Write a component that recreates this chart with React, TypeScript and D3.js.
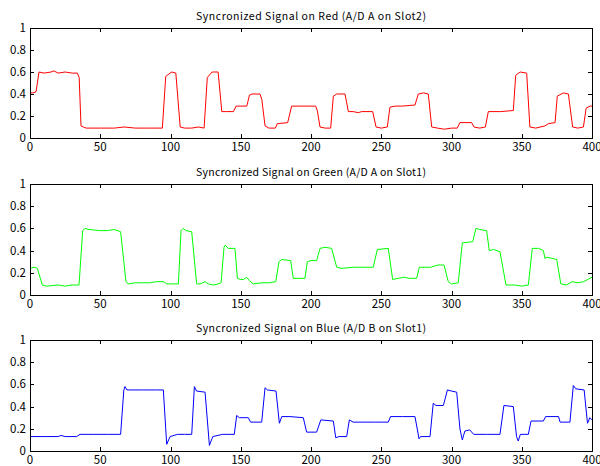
import React, { useEffect, useRef } from 'react';
import * as d3 from 'd3';

// samples: [sample index, level]
const redSignal: [number, number][] = [
  [0, 0.41], [2, 0.41], [4.3, 0.42], [6.4, 0.6], [10, 0.59], [15, 0.6], [17, 0.61], [20, 0.59], [25, 0.6], [30, 0.59],
  [33.7, 0.59], [35, 0.55], [36.3, 0.11], [38, 0.1], [40, 0.09], [50, 0.09], [60, 0.09], [67, 0.1], [75, 0.09], [85, 0.09],
  [94.2, 0.09], [96.6, 0.56], [99.7, 0.59], [101, 0.6], [103.8, 0.59], [106.9, 0.1], [110, 0.09], [115, 0.09], [120, 0.1],
  [123.9, 0.09], [126.2, 0.55], [129.6, 0.6], [133.9, 0.6], [136.5, 0.24], [140, 0.24], [144.8, 0.24], [146.7, 0.29],
  [154.3, 0.29], [156.2, 0.39], [158, 0.4], [163.7, 0.4], [165, 0.35], [167.3, 0.11], [170, 0.09], [174.6, 0.09], [176, 0.13],
  [183.4, 0.14], [186.2, 0.29], [195, 0.29], [203.3, 0.29], [204.5, 0.25], [206.4, 0.1], [210, 0.09], [214, 0.09],
  [215.9, 0.38], [218.3, 0.4], [224.2, 0.4], [226.6, 0.24], [230, 0.24], [233.7, 0.23], [236, 0.24], [243.9, 0.24],
  [246.3, 0.1], [250, 0.09], [254.3, 0.1], [256.2, 0.28], [259.8, 0.29], [265, 0.29], [274, 0.3], [276.4, 0.4], [280, 0.41],
  [283.5, 0.4], [285.9, 0.1], [290, 0.09], [295, 0.08], [300, 0.09], [304.1, 0.09], [306, 0.14], [314.3, 0.14], [316, 0.1],
  [320, 0.09], [324.1, 0.1], [326.2, 0.24], [335, 0.24], [344, 0.25], [345.7, 0.57], [348.8, 0.6], [353.5, 0.59],
  [355.8, 0.1], [360, 0.09], [366.5, 0.11], [368.9, 0.13], [373.7, 0.14], [375.3, 0.38], [379.6, 0.41], [383.2, 0.4],
  [386.2, 0.1], [390, 0.09], [393.9, 0.1], [395.8, 0.27], [398.7, 0.29], [400, 0.29],
];

const greenSignal: [number, number][] = [
  [0, 0.24], [3, 0.25], [5.2, 0.24], [8.8, 0.09], [12, 0.08], [20, 0.09], [25, 0.08], [30, 0.09], [34.9, 0.09], [37.5, 0.58],
  [39.2, 0.6], [42, 0.59], [50, 0.58], [55, 0.58], [60, 0.59], [64.5, 0.57], [68.3, 0.12], [70, 0.1], [75, 0.11], [85, 0.11],
  [90, 0.12], [95, 0.12], [97.3, 0.1], [100, 0.1], [105.6, 0.1], [107.5, 0.58], [109, 0.6], [111, 0.58], [115.1, 0.57],
  [118.6, 0.1], [121, 0.1], [124.6, 0.12], [127, 0.1], [130.5, 0.09], [134, 0.1], [136, 0.11], [138.1, 0.43], [139, 0.45],
  [141, 0.42], [145.9, 0.42], [147.6, 0.15], [150, 0.14], [152, 0.14], [154.3, 0.16], [156, 0.13], [159, 0.1], [165, 0.11],
  [170, 0.11], [174.9, 0.12], [177.2, 0.3], [179, 0.32], [185.5, 0.31], [187.4, 0.15], [195.7, 0.15], [197.4, 0.3],
  [200, 0.31], [204, 0.31], [206.4, 0.42], [210, 0.43], [214.7, 0.42], [218.3, 0.25], [222, 0.24], [230, 0.25], [240, 0.25],
  [244.3, 0.25], [247.2, 0.41], [255, 0.42], [258.1, 0.14], [262, 0.15], [266, 0.16], [270, 0.15], [275.2, 0.15],
  [277.1, 0.25], [285, 0.25], [290.4, 0.27], [294.7, 0.27], [297.7, 0.12], [300, 0.1], [304.8, 0.11], [307.7, 0.47],
  [315.1, 0.48], [317.4, 0.6], [320, 0.59], [325, 0.58], [326.9, 0.4], [330, 0.41], [334.5, 0.39], [338.8, 0.09],
  [345, 0.09], [350, 0.08], [354.7, 0.09], [357.5, 0.42], [362, 0.42], [365.4, 0.4], [366.5, 0.33], [368, 0.34],
  [374.9, 0.32], [377.8, 0.1], [382, 0.09], [385.7, 0.12], [390, 0.11], [394, 0.12], [397, 0.14], [400, 0.16],
];

const blueSignal: [number, number][] = [
  [0, 0.13], [10, 0.13], [20, 0.13], [22, 0.14], [25, 0.13], [33.2, 0.13], [35.6, 0.15], [45, 0.15], [55, 0.15],
  [64.5, 0.15], [66.8, 0.55], [67.6, 0.58], [69, 0.55], [80, 0.55], [90, 0.55], [94.9, 0.55], [96.6, 0.2], [97.3, 0.06],
  [99.7, 0.13], [105, 0.15], [110, 0.15], [115.1, 0.15], [117, 0.58], [118.5, 0.54], [124.6, 0.53], [127.7, 0.05],
  [130.1, 0.13], [137, 0.15], [145.4, 0.15], [147.1, 0.32], [149, 0.3], [155.4, 0.3], [157, 0.26], [164.9, 0.26],
  [167.3, 0.57], [169, 0.55], [175.1, 0.54], [177.5, 0.25], [179.2, 0.31], [185, 0.31], [194.5, 0.3], [196.9, 0.17],
  [204, 0.17], [207, 0.28], [215.9, 0.27], [217.6, 0.12], [220, 0.13], [225.4, 0.13], [227.3, 0.28], [230, 0.26],
  [245, 0.26], [255, 0.26], [256.6, 0.31], [265, 0.31], [274, 0.31], [276.9, 0.11], [278, 0.13], [284.7, 0.13],
  [287, 0.43], [289, 0.41], [294.2, 0.41], [297.1, 0.55], [300, 0.54], [303.7, 0.53], [306, 0.2], [307.7, 0.1],
  [309.5, 0.18], [313, 0.19], [315.8, 0.15], [325, 0.15], [334.5, 0.15], [337.3, 0.41], [344, 0.4], [346.3, 0.13],
  [347.5, 0.09], [349, 0.15], [354.7, 0.15], [356.6, 0.27], [365.4, 0.27], [367, 0.31], [376.2, 0.31], [377.3, 0.26],
  [384.3, 0.26], [386.7, 0.59], [388.5, 0.56], [394.4, 0.55], [396.8, 0.25], [398.5, 0.3], [400, 0.28],
];

const xTicks = [0, 50, 100, 150, 200, 250, 300, 350, 400];
const yTicks = [0, 0.2, 0.4, 0.6, 0.8, 1];

const panels = [
  { title: 'Syncronized Signal on Red (A/D A on Slot2)', data: redSignal, color: '#ff0000', top: 28, bottom: 138 },
  { title: 'Syncronized Signal on Green (A/D A on Slot1)', data: greenSignal, color: '#00ff00', top: 184, bottom: 295 },
  { title: 'Syncronized Signal on Blue (A/D B on Slot1)', data: blueSignal, color: '#0000ff', top: 340, bottom: 451 },
];

const width = 600;
const height = 466;
const left = 30;
const right = 592;
const font = '"Noto Sans CJK JP", "Noto Sans", sans-serif';

export default function App() {
  const svgRef = useRef<SVGSVGElement>(null);

  useEffect(() => {
    const svg = d3.select(svgRef.current);
    svg.selectAll('*').remove();

    const x = d3.scaleLinear().domain([0, 400]).range([left, right]);
    const tick = 4;

    panels.forEach(p => {
      const y = d3.scaleLinear().domain([0, 1]).range([p.bottom, p.top]);
      const g = svg.append('g');

      // signal
      g.append('path')
        .datum(p.data)
        .attr('d', d3.line<[number, number]>().x(d => x(d[0])).y(d => y(d[1])))
        .attr('fill', 'none')
        .attr('stroke', p.color)
        .attr('stroke-width', 1);

      // inward ticks, matlab style
      xTicks.forEach(t => {
        const px = Math.round(x(t)) + 0.5;
        g.append('line').attr('x1', px).attr('x2', px).attr('y1', p.bottom).attr('y2', p.bottom - tick).attr('stroke', '#000');
        g.append('line').attr('x1', px).attr('x2', px).attr('y1', p.top).attr('y2', p.top + tick).attr('stroke', '#000');
        g.append('text')
          .attr('x', x(t))
          .attr('y', p.bottom + 13)
          .attr('text-anchor', 'middle')
          .style('font-family', font)
          .style('font-size', '11.5px')
          .text(String(t));
      });
      yTicks.forEach(t => {
        const py = Math.round(y(t)) + 0.5;
        g.append('line').attr('x1', left).attr('x2', left + tick).attr('y1', py).attr('y2', py).attr('stroke', '#000');
        g.append('line').attr('x1', right).attr('x2', right - tick).attr('y1', py).attr('y2', py).attr('stroke', '#000');
        g.append('text')
          .attr('x', left - 4)
          .attr('y', y(t) + 4)
          .attr('text-anchor', 'end')
          .style('font-family', font)
          .style('font-size', '11.5px')
          .text(String(t));
      });

      // box
      g.append('rect')
        .attr('x', left + 0.5)
        .attr('y', p.top + 0.5)
        .attr('width', right - left)
        .attr('height', p.bottom - p.top)
        .attr('fill', 'none')
        .attr('stroke', '#000')
        .attr('stroke-width', 1);

      g.append('text')
        .attr('x', (left + right) / 2)
        .attr('y', p.top - 8)
        .attr('text-anchor', 'middle')
        .attr('textLength', 230)
        .attr('lengthAdjust', 'spacing')
        .style('font-family', font)
        .style('font-size', '10.5px')
        .text(p.title);
    });
  }, []);

  return (
    <svg
      ref={svgRef}
      width={width}
      height={height}
      style={{ position: 'absolute', left: 0, top: 0, background: '#fff' }}
    />
  );
}
